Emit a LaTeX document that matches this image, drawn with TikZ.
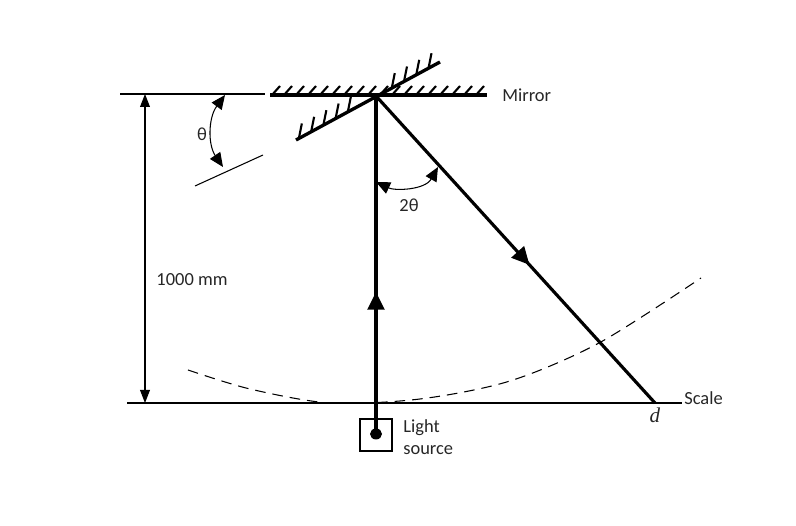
\documentclass[tikz,border=0pt]{standalone}
\usepackage{fontspec}
\setmainfont{Carlito}
\newfontfamily\symfont{Liberation Serif}
\usetikzlibrary{arrows.meta, decorations.markings, calc, positioning}

\tikzset{
    beam/.style={line width=1.8pt},
    thinline/.style={line width=0.6pt},
    mirrorline/.style={line width=1.9pt},
    hatch/.style={line width=1.2pt},
    dimarrow/.style={thinline, {Triangle[length=7.4pt,width=5.6pt]}-{Triangle[length=7.4pt,width=5.6pt]}},
    anglearrow/.style={thinline, {Triangle[length=8pt,width=7pt]}-{Triangle[length=8pt,width=7pt]}},
    midarrow/.style={postaction={decorate}, decoration={markings,
        mark=at position #1 with {\arrow{Triangle[length=10pt,width=9.5pt]}}}},
    lbl/.style={font=\fontsize{10.5}{12.5}\selectfont, text=black!85, inner sep=0pt}
}

\begin{document}
\begin{tikzpicture}[x=0.02cm, y=-0.02cm]
    \useasboundingbox (0,0) rectangle (796,526);

    % Main points of the set-up
    \coordinate (pivot) at (376,96);
    \coordinate (source) at (376,434);
    \coordinate (spot) at (655,403);
    \coordinate (tiltL) at (296,140);
    \coordinate (tiltR) at (440,62);

    % Reference lines and the scale
    \coordinate (topL) at (120,94);
    \coordinate (topR) at (265,94);
    \coordinate (scaleL) at (127,403);
    \coordinate (scaleR) at (682,403);
    \draw[thinline] (topL) -- (topR);
    \draw[thinline] (scaleL) -- (scaleR);
    \node[lbl, anchor=west] (scale) at (684,398) {Scale};

    % Distance mirror to scale
    \coordinate (dimtop) at (145,94);
    \coordinate (dimbot) at (145,403);
    \draw[dimarrow] (dimbot) -- (dimtop);
    \node[lbl] (dist) at (192,280) {1000 mm};

    % Mirror turned through theta
    \coordinate (thL) at (195,186);
    \coordinate (thR) at (263,155);
    \draw[thinline] (thL) -- (thR);
    \coordinate (tha) at (225,95);
    \coordinate (thb) at (223,167);
    \draw[anglearrow] (tha) .. controls (208,118) and (208,145) .. (thb);
    \node[lbl] (theta) at (202,134) {θ};

    % Mirror in its first position
    \coordinate (mirL) at (270,95);
    \coordinate (mirR) at (487,95);
    \draw[mirrorline] (mirL) -- (mirR);
    \foreach \x in {272,284,...,476}
        \draw[hatch] (\x,95) -- ++(8,-9);
    \node[lbl, anchor=west] (mirror) at (502,95) {Mirror};

    % Mirror after turning
    \draw[mirrorline] (tiltL) -- (tiltR);
    \foreach \t in {0.02,0.105,0.19,0.275,0.36,0.665,0.75,0.835,0.92}
        \draw[hatch] ($(tiltL)!\t!(tiltR)$) -- ++(3,-15);

    % Incident and reflected beams
    \draw[beam, midarrow=0.42] (source) -- (pivot);
    \draw[beam, midarrow=0.55] (pivot) -- (spot);
    \node[lbl] (d) at (655,415) {\symfont\itshape\fontsize{12}{14}\selectfont d};

    % Angle between the beams
    \coordinate (tta) at (376,182);
    \coordinate (ttb) at (438,167);
    \draw[anglearrow] (tta) .. controls (395,191) and (425,190) .. (ttb);
    \node[lbl] (twotheta) at (409,205) {2θ};

    % Path of the spot
    \draw[thinline, dash pattern=on 6pt off 4pt]
        plot[smooth] coordinates {(188,370) (250,389) (330,403) (420,399)
        (510,381) (599,343) (701,278)};

    % Light source
    \node[draw, thinline, minimum size=0.64cm, inner sep=0pt] (box) at (376,435) {};
    \fill (source) circle[x radius=6, y radius=5.5];
    \node[lbl, anchor=west, align=left] (srclbl) at (403,437) {Light\\source};
\end{tikzpicture}
\end{document}
